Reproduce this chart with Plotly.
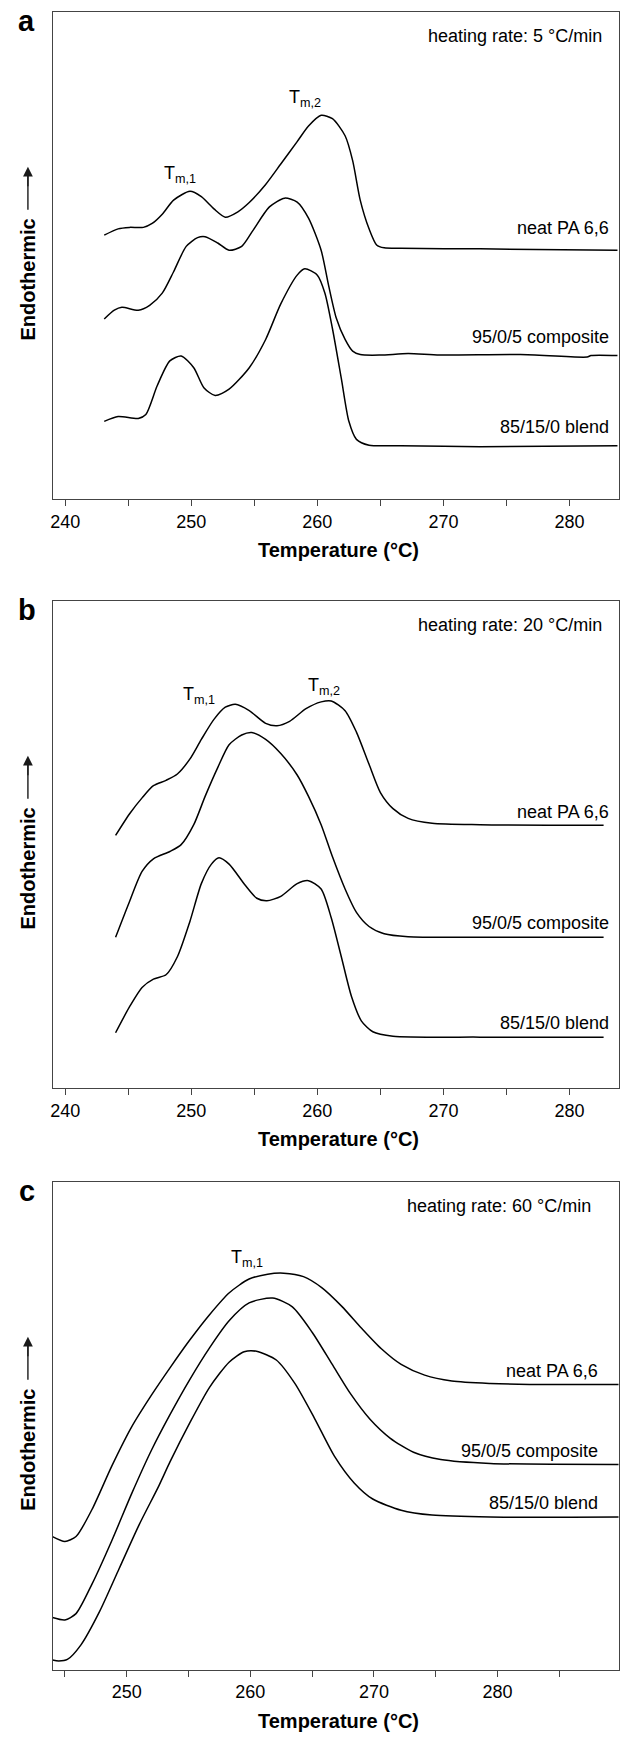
import plotly.graph_objects as go

# ---------------- data (arbitrary heat-flow units, 0-100 axis) ----------------
# Panel a: 5 °C/min
a_neat_T = [243.1, 244.2, 245.1, 246.2, 246.9, 247.7, 248.6, 249.9, 250.8, 251.8, 252.7, 253.7, 254.6, 255.9,
            257.1, 258.4, 259.3, 260.3, 261.2, 262.2, 262.8, 263.4, 264.1, 264.7, 265.3, 266.6, 272.9, 283.8]
a_neat_v = [54.2, 55.5, 55.8, 55.8, 56.6, 58.5, 61.4, 63.2, 62.1, 59.6, 57.9, 59.0, 60.9, 64.6,
            68.8, 73.4, 76.6, 78.8, 78.1, 74.6, 69.5, 61.4, 55.5, 52.2, 51.6, 51.5, 51.4, 51.1]
a_comp_T = [243.1, 243.9, 244.5, 245.8, 246.7, 247.7, 248.6, 249.6, 250.5, 251.1, 252.1, 253.0, 254.0, 254.9,
            256.2, 257.4, 258.4, 259.3, 260.3, 260.9, 261.5, 262.2, 262.8, 263.4, 265.0, 267.2, 269.7, 276.1,
            281.4, 281.7, 283.8]
a_comp_v = [37.0, 38.8, 39.4, 38.8, 39.8, 42.3, 46.7, 51.9, 53.7, 53.9, 52.6, 51.1, 51.9, 55.2,
            60.0, 61.8, 61.0, 57.7, 51.1, 43.8, 37.2, 32.8, 30.4, 29.7, 29.6, 29.9, 29.6, 29.7,
            29.2, 29.5, 29.5]
a_blend_T = [243.1, 244.2, 245.8, 246.4, 247.3, 248.3, 249.2, 250.2, 251.0, 251.9, 253.0, 254.6, 255.9,
             257.1, 258.4, 259.0, 260.0, 260.6, 261.2, 261.9, 262.5, 263.1, 264.1, 266.6, 272.9, 283.8]
a_blend_v = [16.0, 17.0, 16.6, 17.4, 23.3, 28.4, 29.4, 27.0, 22.9, 21.3, 22.6, 27.0, 32.8,
             40.1, 46.0, 47.3, 46.0, 42.3, 35.0, 24.8, 16.0, 12.3, 11.1, 11.0, 10.8, 11.0]

# Panel b: 20 °C/min
b_neat_T = [244.0, 245.1, 246.1, 247.0, 248.0, 248.9, 249.9, 250.8, 251.8, 252.7, 253.5, 254.6, 255.9, 256.8,
            257.8, 259.1, 260.3, 261.1, 262.2, 263.1, 264.1, 265.0, 266.0, 267.2, 269.1, 272.9, 282.7]
b_neat_v = [51.9, 56.3, 59.6, 62.1, 63.2, 64.5, 67.6, 71.6, 75.7, 78.2, 78.8, 77.5, 74.9, 74.4,
            75.3, 77.9, 79.3, 79.5, 77.5, 73.1, 66.5, 60.7, 57.4, 55.4, 54.4, 54.1, 54.0]
b_comp_T = [244.0, 245.1, 246.1, 247.0, 248.3, 249.2, 250.2, 251.1, 252.1, 253.0, 254.0, 254.8, 255.9,
            257.1, 258.4, 259.3, 260.3, 261.2, 262.2, 263.1, 264.1, 265.3, 267.2, 272.9, 282.7]
b_comp_v = [31.0, 38.3, 44.5, 47.1, 48.6, 50.0, 54.1, 59.9, 65.8, 70.5, 72.5, 73.0, 71.6,
            68.7, 64.3, 59.9, 54.1, 47.5, 40.9, 36.1, 33.2, 31.7, 31.1, 31.0, 31.0]
b_blend_T = [244.0, 245.1, 246.1, 247.0, 248.0, 248.9, 249.9, 250.8, 251.6, 252.2, 253.0, 254.3, 255.2,
             256.0, 257.1, 258.4, 259.3, 260.3, 261.1, 261.9, 262.7, 263.5, 264.4, 266.0, 272.9, 282.7]
b_blend_v = [11.4, 16.7, 20.7, 22.4, 23.3, 27.0, 34.3, 42.0, 46.0, 47.3, 46.0, 41.6, 39.0,
             38.5, 39.4, 42.0, 42.6, 40.9, 35.0, 27.0, 18.9, 13.8, 11.6, 10.7, 10.5, 10.5]

# Panel c: 60 °C/min
c_neat_T = [244.0, 245.0, 245.9, 247.2, 248.8, 250.4, 252.0, 253.5, 255.1, 256.7, 258.3, 259.9, 261.4,
            262.7, 264.3, 265.8, 267.4, 269.0, 270.6, 272.2, 274.1, 276.3, 279.4, 282.6, 289.8]
c_neat_v = [27.3, 26.3, 27.3, 32.9, 41.8, 49.8, 56.3, 61.9, 67.6, 72.8, 77.3, 80.1, 81.1,
            81.3, 80.6, 78.3, 74.5, 70.0, 65.8, 62.6, 60.4, 59.2, 58.7, 58.5, 58.5]
c_comp_T = [244.0, 245.0, 245.9, 247.2, 248.8, 250.4, 252.0, 253.5, 255.1, 256.7, 258.3, 259.9, 261.8,
            263.4, 265.0, 266.6, 268.1, 269.7, 271.3, 273.2, 275.4, 279.4, 289.8]
c_comp_v = [10.7, 10.2, 11.5, 17.6, 26.5, 36.1, 45.0, 52.3, 59.5, 66.0, 71.6, 75.2, 76.2,
            74.4, 69.2, 62.7, 56.6, 51.3, 47.5, 44.6, 43.1, 42.3, 42.1]
c_blend_T = [244.0, 244.5, 245.2, 246.3, 247.8, 249.4, 251.0, 252.6, 253.5, 255.1, 256.7, 258.3, 259.5,
             260.5, 262.1, 263.6, 265.2, 266.8, 268.4, 269.9, 272.2, 274.7, 279.4, 289.8]
c_blend_v = [2.0, 1.8, 2.1, 5.1, 11.9, 20.8, 29.7, 37.7, 42.6, 50.6, 57.9, 63.1, 65.2,
             65.3, 63.5, 58.7, 51.5, 43.8, 38.3, 35.0, 32.7, 31.7, 31.3, 31.3]

series_names = ["neat PA 6,6", "95/0/5 composite", "85/15/0 blend"]
panel_letters = ["a", "b", "c"]
rates = ["heating rate: 5 °C/min", "heating rate: 20 °C/min", "heating rate: 60 °C/min"]
x_ranges = [[239.0, 283.9], [239.0, 283.9], [244.0, 289.8]]
tick_vals_ab = [240, 245, 250, 255, 260, 265, 270, 275, 280]
tick_text_ab = ["240", "", "250", "", "260", "", "270", "", "280"]
tick_vals_c = [245, 250, 255, 260, 265, 270, 275, 280, 285]
tick_text_c = ["", "250", "", "260", "", "270", "", "280", ""]

# label positions (data coords)
series_label_x = [283.3, 283.3, 288.3]
series_label_y = [[55.6, 33.3, 14.9], [56.7, 34.0, 13.5], [61.3, 44.9, 34.2]]
rate_label_x = [282.7, 282.7, 287.7]
tm_labels = [
    [("T<sub>m,1</sub>", 249.1, 66.6), ("T<sub>m,2</sub>", 259.0, 82.2)],
    [("T<sub>m,1</sub>", 250.6, 80.6), ("T<sub>m,2</sub>", 260.5, 82.5)],
    [("T<sub>m,1</sub>", 259.7, 84.4)],
]

panels = [
    [(a_neat_T, a_neat_v), (a_comp_T, a_comp_v), (a_blend_T, a_blend_v)],
    [(b_neat_T, b_neat_v), (b_comp_T, b_comp_v), (b_blend_T, b_blend_v)],
    [(c_neat_T, c_neat_v), (c_comp_T, c_comp_v), (c_blend_T, c_blend_v)],
]

# ---------------- layout geometry (pixels) ----------------
W, H = 627, 1737
box_left, box_right = 50.7, 618.7
box_tops = [12.0, 601.0, 1182.0]
box_bottoms = [499.3, 1088.3, 1669.7]

FONT = "Liberation Sans, Arial, sans-serif"
AX = "#444444"

fig = go.Figure()
annotations = []
shapes = []
layout_axes = {}

for i in range(3):
    xa = "x" if i == 0 else f"x{i+1}"
    ya = "y" if i == 0 else f"y{i+1}"
    for (T, v), name in zip(panels[i], series_names):
        fig.add_trace(go.Scatter(x=T, y=v, mode="lines", name=name, xaxis=xa, yaxis=ya,
                                 line=dict(color="black", width=1.5, shape="spline", smoothing=0.7),
                                 showlegend=False, hoverinfo="skip"))
    dom_x = [box_left / W, box_right / W]
    dom_y = [1 - box_bottoms[i] / H, 1 - box_tops[i] / H]
    tv = tick_vals_c if i == 2 else tick_vals_ab
    tt = tick_text_c if i == 2 else tick_text_ab
    key = "" if i == 0 else str(i + 1)
    layout_axes["xaxis" + key] = dict(
        domain=dom_x, range=x_ranges[i], anchor=ya, showline=True, mirror=True,
        linecolor=AX, linewidth=1.3, ticks="outside", ticklen=6, tickwidth=1.2, tickcolor=AX,
        tickvals=tv, ticktext=tt, showgrid=False, zeroline=False,
        tickfont=dict(family=FONT, size=18, color="black"),
    )
    layout_axes["yaxis" + key] = dict(
        domain=dom_y, range=[0, 100], anchor=xa, showline=True, mirror=True,
        linecolor=AX, linewidth=1.3, ticks="", showticklabels=False, showgrid=False, zeroline=False,
    )

    # series labels
    for name, yy in zip(series_names, series_label_y[i]):
        annotations.append(dict(x=series_label_x[i], y=yy, xref=xa, yref=ya, text=name, showarrow=False,
                                xanchor="right", yanchor="middle",
                                font=dict(family=FONT, size=18, color="black")))
    # heating rate
    annotations.append(dict(x=rate_label_x[i], y=95.0, xref=xa, yref=ya, text=rates[i], showarrow=False,
                            xanchor="right", yanchor="middle",
                            font=dict(family=FONT, size=18, color="black")))
    # Tm labels
    for txt, tx, ty in tm_labels[i]:
        annotations.append(dict(x=tx, y=ty, xref=xa, yref=ya, text=txt, showarrow=False,
                                xanchor="center", yanchor="middle",
                                font=dict(family=FONT, size=18, color="black")))
    # x-axis title
    annotations.append(dict(x=(box_left + box_right) / 2 / W + 0.004, y=1 - (box_bottoms[i] + 51) / H,
                            xref="paper", yref="paper", text="<b>Temperature (°C)</b>", showarrow=False,
                            xanchor="center", yanchor="middle",
                            font=dict(family=FONT, size=20, color="black")))
    # panel letter
    annotations.append(dict(x=25 / W, y=1 - (box_tops[i] + 9) / H, xref="paper", yref="paper",
                            text=f"<b>{panel_letters[i]}</b>", showarrow=False,
                            xanchor="center", yanchor="middle",
                            font=dict(family=FONT, size=29, color="black")))
    # y-axis title + arrow
    cy = (box_tops[i] + box_bottoms[i]) / 2
    annotations.append(dict(x=26 / W, y=1 - (cy + 24) / H, xref="paper", yref="paper",
                            text="<b>Endothermic</b>", showarrow=False, textangle=-90,
                            xanchor="center", yanchor="middle",
                            font=dict(family=FONT, size=20, color="black")))
    tip = cy - 89
    tail = cy - 46
    shapes.append(dict(type="line", xref="paper", yref="paper",
                       x0=26 / W, x1=26 / W, y0=1 - tail / H, y1=1 - (tip + 6) / H,
                       line=dict(color="#1a1a1a", width=1.4)))
    annotations.append(dict(x=26 / W, y=1 - tip / H, xref="paper", yref="paper",
                            text="", font=dict(size=1), borderpad=0,
                            showarrow=True, ax=0, ay=20, arrowhead=2, arrowsize=1.5,
                            arrowwidth=1.3, arrowcolor="#1a1a1a", standoff=0, startstandoff=0))

fig.update_layout(
    width=W, height=H, margin=dict(l=0, r=0, t=0, b=0),
    paper_bgcolor="white", plot_bgcolor="white",
    annotations=annotations, shapes=shapes, **layout_axes,
)

fig.write_html("out.html")
